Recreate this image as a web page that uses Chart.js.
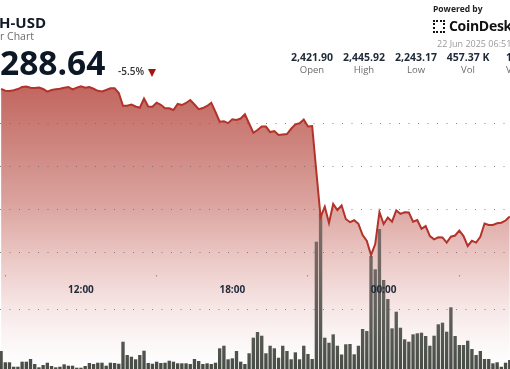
<!DOCTYPE html>
<html>
<head>
<meta charset="utf-8">
<script src="https://cdn.jsdelivr.net/npm/chart.js@4.4.0/dist/chart.umd.min.js"></script>
<style>
  body { margin: 0; width: 510px; height: 369px; overflow: hidden; background: #fff; position: relative; font-family: "Open Sans", sans-serif; }
  #chart { position: absolute; left: 0; top: 0; }
  .t { position: absolute; white-space: nowrap; line-height: 1; }
  #pair { left: -1px; top: 15px; font-size: 15px; font-weight: 700; color: #111a27; }
  #sub { left: 0; top: 31px; font-size: 10.5px; color: #6b6b6b; }
  #last { left: 0; top: 46px; font-size: 33.5px; font-weight: 700; color: #0d1826; }
  #change { left: 118px; top: 66px; font-size: 10px; font-weight: 600; color: #333; }
  #arrow { position: absolute; left: 148px; top: 69px; width: 0; height: 0; border-left: 4.5px solid transparent; border-right: 4.5px solid transparent; border-top: 8px solid #a3150f; }
  #powered { left: 433px; top: 5px; font-size: 8.5px; font-weight: 700; color: #222; }
  #logo { position: absolute; left: 433px; top: 20px; width: 8px; height: 9px; border: 2.5px dotted #111; }
  #brand { left: 449px; top: 19px; font-size: 14px; font-weight: 700; color: #111; letter-spacing: -0.3px; }
  #date { left: 437px; top: 39px; font-size: 9px; color: #9a9a9a; }
  .val { top: 52px; width: 52px; text-align: center; font-size: 10.5px; font-weight: 700; color: #1f2937; }
  .lab { top: 65px; width: 52px; text-align: center; font-size: 9.5px; color: #6b6b6b; }
</style>
</head>
<body>
<canvas id="chart" width="510" height="369"></canvas>
<div class="t" id="pair">H-USD</div>
<div class="t" id="sub">r Chart</div>
<div class="t" id="last">288.64</div>
<div class="t" id="change">-5.5%</div>
<div id="arrow"></div>
<div class="t" id="powered">Powered by</div>
<div id="logo"></div>
<div class="t" id="brand">CoinDesk</div>
<div class="t" id="date">22 Jun 2025 06:51</div>
<div class="t val" style="left:286px">2,421.90</div>
<div class="t lab" style="left:286px">Open</div>
<div class="t val" style="left:338px">2,445.92</div>
<div class="t lab" style="left:338px">High</div>
<div class="t val" style="left:390px">2,243.17</div>
<div class="t lab" style="left:390px">Low</div>
<div class="t val" style="left:442px">457.37 K</div>
<div class="t lab" style="left:442px">Vol</div>
<div class="t val" style="left:506px;width:auto">1</div>
<div class="t lab" style="left:506px;width:auto">V</div>
<script>
const chartCanvas = document.getElementById("chart");

// 10-minute candles, the first one at 08:50
const startHour = 8 + 50 / 60;
const stepHours = 10 / 60;

// Close price of each candle (USD)
const prices = [
  2439.7, 2437.6, 2437.2, 2438.1, 2439.5, 2441.9, 2442.4, 2440.9, 2440.7, 2441.3,
  2439.5, 2436.4, 2438.4, 2439.2, 2439.9, 2441.0, 2441.9, 2439.0, 2441.2, 2442.8,
  2441.0, 2441.9, 2439.8, 2437.4, 2436.6, 2438.4, 2440.3, 2440.3, 2434.9, 2420.1,
  2420.1, 2421.5, 2419.2, 2417.8, 2428.4, 2419.2, 2418.8, 2423.6, 2421.2, 2417.2,
  2417.1, 2415.1, 2422.1, 2420.9, 2423.3, 2426.7, 2421.5, 2416.0, 2417.4, 2419.8,
  2423.6, 2412.8, 2401.5, 2402.1, 2399.8, 2404.3, 2403.5, 2405.2, 2410.2, 2399.4,
  2388.7, 2391.9, 2395.9, 2395.8, 2389.5, 2390.7, 2386.0, 2386.6, 2387.2, 2393.3,
  2398.5, 2399.7, 2404.1, 2395.9, 2396.5, 2343.0, 2290.7, 2302.7, 2283.7, 2305.8,
  2298.8, 2304.1, 2288.4, 2284.7, 2286.9, 2282.8, 2269.8, 2262.8, 2246.5, 2259.3,
  2296.5, 2282.6, 2290.1, 2285.3, 2298.4, 2294.4, 2296.2, 2295.9, 2285.3, 2287.2,
  2277.0, 2280.2, 2268.6, 2264.8, 2267.1, 2266.9, 2261.0, 2267.8, 2269.2, 2275.0,
  2268.6, 2257.0, 2263.1, 2261.0, 2267.8, 2283.1, 2281.4, 2281.4, 2283.5, 2284.1,
  2286.6, 2291.3,
];

// Volume of each candle (thousand ETH)
const volumes = [
  3.0, 1.12, 1.12, 0.38, 0.38, 1.22, 1.22, 1.67, 0.83, 0.28,
  0.67, 1.05, 0.5, 0.28, 0.38, 0.78, 0.55, 0.55, 0.22, 0.22,
  0.5, 1.0, 0.83, 1.05, 1.05, 0.55, 1.05, 1.0, 0.88, 4.55,
  2.33, 2.05, 1.62, 2.33, 3.05, 1.0, 0.88, 1.22, 1.0, 1.05,
  1.38, 1.22, 0.95, 0.95, 0.95, 0.83, 1.67, 1.33, 0.83, 0.95,
  0.83, 1.05, 3.45, 3.88, 1.62, 1.78, 3.0, 1.22, 0.83, 2.62,
  5.22, 6.17, 5.55, 2.62, 3.88, 3.45, 1.88, 3.88, 3.0, 1.62,
  2.78, 1.62, 3.88, 2.5, 1.67, 21.22, 25.95, 5.22, 4.38, 5.78,
  3.88, 2.42, 4.12, 4.17, 2.45, 3.88, 6.67, 6.33, 18.83, 16.62,
  23.33, 14.83, 11.67, 6.78, 9.55, 6.88, 4.95, 4.55, 5.78, 5.95,
  6.05, 5.5, 3.88, 5.55, 7.45, 7.72, 6.22, 10.28, 5.5, 4.0,
  4.0, 4.72, 3.33, 2.33, 3.0, 1.67, 1.67, 0.95, 1.12, 0.38,
  1.05, 1.5,
];

// Hours that get a label on the time axis
const tickHours = [12, 18, 24];
const tickLabels = ["12:00", "18:00", "00:00"];

// Dotted grid lines
const priceGrid = [2250, 2300, 2350, 2400];
const volumeGrid = [10];

// Price level the time axis sits on
const timeAxisPrice = 2223.3;

const pricePoints = prices.map((p, i) => ({ x: startHour + i * stepHours, y: p }));
const volumePoints = volumes.map((v, i) => ({ x: startHour + i * stepHours, y: v }));

// Red area under the price line, fading out to white at the bottom
const areaFill = (context) => {
  const { ctx, chartArea } = context.chart;
  if (!chartArea) return null;
  const g = ctx.createLinearGradient(0, chartArea.top, 0, chartArea.bottom);
  g.addColorStop(0.2, "rgb(190,96,88)");
  g.addColorStop(0.55, "rgb(219,163,158)");
  g.addColorStop(0.7, "rgb(235,200,197)");
  g.addColorStop(0.83, "rgb(246,230,229)");
  g.addColorStop(0.93, "rgb(252,247,247)");
  g.addColorStop(1, "rgb(255,255,255)");
  return g;
};

// Volume bars get lighter towards the top
const barFill = (context) => {
  const { ctx, chartArea } = context.chart;
  if (!chartArea) return null;
  const g = ctx.createLinearGradient(0, chartArea.bottom, 0, 200);
  g.addColorStop(0, "rgba(60,66,58,0.94)");
  g.addColorStop(1, "rgba(70,66,62,0.6)");
  return g;
};

// grid layers drawn on top of the filled area (z > 0)
const dots = { color: "rgba(105,105,105,0.8)", lineWidth: 1, drawTicks: false, z: 1 };

let myChart = new Chart(chartCanvas, {
  type: "line",
  data: {
    datasets: [
      {
        type: "line",
        data: pricePoints,
        yAxisID: "y",
        borderColor: "#b3322a",
        borderWidth: 2,
        pointRadius: 0,
        tension: 0,
        fill: "start",
        backgroundColor: areaFill,
        order: 1,
      },
      {
        type: "bar",
        data: volumePoints,
        yAxisID: "y2",
        backgroundColor: barFill,
        barPercentage: 0.8,
        categoryPercentage: 1,
        order: 2,
      },
    ],
  },
  options: {
    responsive: false,
    animation: false,
    layout: { padding: 0 },
    plugins: {
      legend: { display: false },
      tooltip: { enabled: false },
      filler: { drawTime: "beforeDatasetsDraw" },
    },
    scales: {
      x: {
        type: "linear",
        min: 8.79,
        max: 29.01,
        offset: false,
        position: { y: timeAxisPrice },
        afterBuildTicks: (axis) => {
          axis.ticks = tickHours.map((v) => ({ value: v }));
        },
        grid: { drawOnChartArea: false, drawTicks: true, tickLength: 1.5, tickColor: "#8a8a8a", z: 1 },
        border: { display: false },
        ticks: {
          z: 2,
          padding: 8,
          maxRotation: 0,
          autoSkip: false,
          color: "#1f2a3a",
          font: { family: "Open Sans", size: 10, weight: "bold" },
          callback: (value) => tickLabels[tickHours.indexOf(value)],
        },
      },
      y: {
        min: 2114,
        max: 2543,
        afterBuildTicks: (axis) => {
          axis.ticks = priceGrid.map((v) => ({ value: v }));
        },
        afterFit: (axis) => {
          axis.width = 0;
        },
        ticks: { display: false },
        grid: dots,
        border: { display: false, dash: [1, 8.5] },
      },
      y2: {
        position: "right",
        min: 0,
        max: 61.5,
        afterBuildTicks: (axis) => {
          axis.ticks = volumeGrid.map((v) => ({ value: v }));
        },
        afterFit: (axis) => {
          axis.width = 0;
        },
        ticks: { display: false },
        grid: dots,
        border: { display: false, dash: [1, 8.5] },
      },
    },
  },
});
</script>
</body>
</html>
